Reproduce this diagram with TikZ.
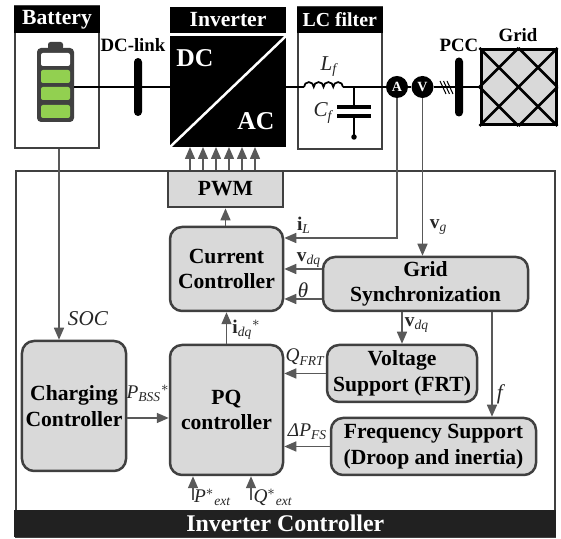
\documentclass[tikz,border=0pt]{standalone}
\usepackage{amsmath}
\usepackage{fontspec}
\setmainfont{Liberation Serif}
\usepackage{tikz}
\usetikzlibrary{arrows.meta}
\definecolor{framegray}{HTML}{404040}
\definecolor{wiregray}{HTML}{595959}
\definecolor{blockgray}{HTML}{D9D9D9}
\definecolor{cellgreen}{HTML}{92D050}
\newcommand{\iv}[1]{\textit{#1}}
\newcommand{\bigbf}{\fontsize{12.3}{14.6}\selectfont\bfseries}
\tikzset{
  framebox/.style={draw=framegray, line width=0.04cm, fill=white, inner sep=0pt},
  headbox/.style={fill=black, text=white, font=\bigbf, inner sep=0pt, outer sep=0pt},
  blockbox/.style={draw=framegray, line width=0.05cm, fill=blockgray, rounded corners=0.24cm, align=center, font=\bigbf, inner sep=0pt, text=black},
  busbar/.style={fill=black, rounded corners=0.08cm, minimum width=0.16cm, inner sep=0pt},
  meter/.style={circle, fill=black, text=white, minimum size=0.44cm, inner sep=0pt, font=\fontsize{8}{9}\selectfont\bfseries},
  cell/.style={rounded corners=0.04cm, minimum width=0.58cm, minimum height=0.26cm, inner sep=0pt},
  title/.style={font=\fontsize{10.7}{12}\selectfont\bfseries, inner sep=0pt},
  siglabel/.style={font=\fontsize{11}{13}\selectfont, inner sep=0pt, text=black!85},
  powerline/.style={line width=0.035cm, black},
  sigline/.style={line width=0.03cm, wiregray, -{Triangle[length=0.24cm,width=0.2cm]}}
}
\begin{document}
\begin{tikzpicture}
\useasboundingbox (0,0) rectangle (11.22,10.78);
\node[framebox, minimum width=1.68cm, minimum height=2.84cm] (batframe) at (1.14,9.24) {};
\node[headbox, minimum width=1.72cm, minimum height=0.54cm] (bat) at (1.14,10.39) {Battery};
\node[framebox, minimum width=1.67cm, minimum height=2.84cm] (lcframe) at (6.795,9.22) {};
\node[headbox, minimum width=1.71cm, minimum height=0.52cm, font=\fontsize{11.3}{13}\selectfont\bfseries] (lc) at (6.795,10.38) {LC filter};
\node[headbox, minimum width=2.32cm, minimum height=0.52cm] (inv) at (4.56,10.38) {Inverter};
\node[headbox, minimum width=2.32cm, minimum height=2.22cm] (invbox) at (4.56,8.95) {};
\draw[white, line width=0.05cm] (invbox.south west) to (invbox.north east);
\node[text=white, font=\fontsize{14.6}{16}\selectfont\bfseries, inner sep=0pt] (dc) at (3.90,9.62) {DC};
\node[text=white, font=\fontsize{14.6}{16}\selectfont\bfseries, inner sep=0pt] (ac) at (5.12,8.36) {AC};

\node[fill=framegray, rounded corners=0.05cm, minimum width=0.30cm, minimum height=0.16cm, inner sep=0pt] (batcap) at (1.11,9.86) {};
\node[fill=framegray, rounded corners=0.08cm, minimum width=0.74cm, minimum height=1.48cm, inner sep=0pt] (batbody) at (1.11,9.08) {};
\node[cell, fill=white] (cell1) at (1.11,9.59) {};
\node[cell, fill=cellgreen] (cell2) at (1.11,9.25) {};
\node[cell, fill=cellgreen] (cell3) at (1.11,8.91) {};
\node[cell, fill=cellgreen] (cell4) at (1.11,8.55) {};

\node[busbar, minimum height=1.16cm] (dclink) at (2.76,9.04) {};
\node[busbar, minimum height=1.18cm] (pcc) at (9.18,9.04) {};
\node[meter] (amm) at (7.94,9.04) {A};
\node[meter] (vm) at (8.45,9.04) {V};
\node[draw=black, line width=0.06cm, fill=blockgray, minimum width=1.5cm, minimum height=1.5cm, inner sep=0pt] (grid) at (10.37,9.04) {};
\coordinate (lstart) at (6.08,9.04);
\coordinate (lend) at (6.86,9.04);
\coordinate (capin) at (7.08,9.04);
\coordinate (capup) at (7.08,8.64);
\coordinate (capdn) at (7.08,8.46);
\coordinate (capgnd) at (7.08,8.04);

\draw[powerline] (batbody.east |- dclink) to (dclink.west);
\draw[powerline] (dclink.east) to (dclink -| invbox.west);
\draw[powerline] (dclink -| invbox.east) to (lstart);
\draw[powerline] (lstart) arc (180:0:0.0975) arc (180:0:0.0975) arc (180:0:0.0975) arc (180:0:0.0975);
\draw[powerline] (lend) to (amm.west);
\draw[powerline] (amm.east) to (vm.west);
\draw[powerline] (vm.east) to (pcc.west);
\draw[powerline] (pcc.east) to (pcc -| grid.west);
\draw[powerline] (capin) to (capup);
\draw[powerline] (capdn) to (capgnd);
\draw[black, line width=0.07cm] (6.74,8.64) to (7.42,8.64);
\draw[black, line width=0.07cm] (6.74,8.46) to (7.42,8.46);
\fill[black] (capgnd) circle (0.055);
\foreach \i in {0,0.07,0.14} {
  \draw[black, line width=0.02cm] (8.80+\i,9.16) to (8.92+\i,8.90);
}
\draw[black, line width=0.05cm] (grid.north west) to (grid.south east);
\draw[black, line width=0.05cm] (grid.north east) to (grid.south west);
\draw[black, line width=0.05cm] (grid.north) to (grid.east);
\draw[black, line width=0.05cm] (grid.east) to (grid.south);
\draw[black, line width=0.05cm] (grid.south) to (grid.west);
\draw[black, line width=0.05cm] (grid.west) to (grid.north);

\node[title] (dclabel) at (2.66,9.88) {DC-link};
\node[title] (pcclabel) at (9.18,9.88) {PCC};
\node[title] (gridlabel) at (10.36,10.08) {Grid};
\node[siglabel, font=\fontsize{12}{14}\selectfont] (lf) at (6.58,9.44) {$\iv{L}_{\iv{f}}$};
\node[siglabel, font=\fontsize{12}{14}\selectfont] (cf) at (6.46,8.52) {$\iv{C}_{\iv{f}}$};

\node[draw=framegray, line width=0.04cm, minimum width=10.79cm, minimum height=7.31cm, inner sep=0pt] (ctrlframe) at (5.705,3.695) {};
\node[fill=black!87, text=white, font=\fontsize{13.6}{15}\selectfont\bfseries, minimum width=10.83cm, minimum height=0.54cm, inner sep=0pt] (ctrlbar) at (5.705,0.31) {Inverter Controller};
\node[blockbox, rounded corners=0pt, line width=0.055cm, minimum width=2.30cm, minimum height=0.72cm] (pwm) at (4.51,7.00) {PWM};
\node[blockbox, minimum width=2.26cm, minimum height=1.68cm] (cur) at (4.53,5.40) {Current\\Controller};
\node[blockbox, minimum width=2.26cm, minimum height=2.60cm] (pq) at (4.53,2.58) {PQ\\controller};
\node[blockbox, minimum width=2.08cm, minimum height=2.60cm] (charge) at (1.48,2.66) {Charging\\Controller};
\node[blockbox, minimum width=4.10cm, minimum height=1.08cm] (sync) at (8.51,5.10) {Grid\\Synchronization};
\node[blockbox, minimum width=3.00cm, minimum height=1.14cm] (volt) at (8.04,3.31) {Voltage\\Support (FRT)};
\node[blockbox, minimum width=4.10cm, minimum height=1.14cm] (freq) at (8.67,1.85) {Frequency Support\\(Droop and inertia)};

\foreach \i in {-0.71,-0.45,-0.19,0.07,0.33,0.59} {
  \draw[sigline] ([xshift=\i cm]pwm.north) to ([xshift=\i cm]pwm.north |- invbox.south);
}
\draw[sigline] (cur.north -| pwm.north) to (pwm.south);
\draw[sigline] (pq.north) to (cur.south);
\draw[sigline] (charge.east |- 0,2.42) to (pq.west |- 0,2.42);
\draw[sigline] ([xshift=0.04cm]batframe.south) to ([xshift=0.04cm]batframe.south |- charge.north);
\draw[sigline] (amm.south) |- ([yshift=0.62cm]cur.east);
\draw[sigline] (vm.south) to (vm.south |- sync.north);
\draw[sigline] ([yshift=0.3cm]sync.west) to ([yshift=0.3cm]sync.west -| cur.east);
\draw[sigline] ([yshift=-0.3cm]sync.west) to ([yshift=-0.3cm]sync.west -| cur.east);
\draw[sigline] (sync.south -| volt.north) to (volt.north);
\draw[sigline] ([xshift=1.33cm]sync.south) to ([xshift=1.33cm]sync.south |- freq.north);
\draw[sigline] (volt.west) to (volt.west -| pq.east);
\draw[sigline] (freq.west) to (freq.west -| pq.east);
\coordinate (pin) at (3.86,0.78);
\coordinate (qin) at (5.02,0.78);
\draw[sigline] (pin) to (pin |- pq.south);
\draw[sigline] (qin) to (qin |- pq.south);

\node[siglabel, font=\fontsize{12}{14}\selectfont] (soclabel) at (1.76,4.40) {\iv{SOC}};
\node[siglabel] (ilabel) at (6.08,6.28) {$\textbf{i}_{\iv{L}}$};
\node[siglabel] (vglabel) at (8.77,6.24) {$\textbf{v}_{\iv{g}}$};
\node[siglabel] (vdqa) at (6.18,5.58) {$\textbf{v}_{\iv{dq}}$};
\node[siglabel, font=\fontsize{12}{14}\selectfont] (thetalabel) at (6.06,4.98) {\iv{θ}};
\node[siglabel] (vdqb) at (8.34,4.28) {$\textbf{v}_{\iv{dq}}$};
\node[siglabel, font=\fontsize{12}{14}\selectfont] (flabel) at (10.02,2.90) {\iv{f}};
\node[siglabel] (qfrt) at (6.10,3.64) {$\iv{Q}_{\iv{FRT}}$};
\node[siglabel] (dpfs) at (6.15,2.14) {\iv{ΔP}$_{\iv{FS}}$};
\node[siglabel] (pbss) at (2.96,2.92) {$\iv{P}_{\iv{BSS}}{}^{*}$};
\node[siglabel] (idq) at (4.93,4.18) {$\textbf{i}_{\iv{dq}}{}^{*}$};
\node[siglabel] (pext) at (4.25,0.84) {$\iv{P}^{*}{}_{\iv{ext}}$};
\node[siglabel] (qext) at (5.46,0.84) {$\iv{Q}^{*}{}_{\iv{ext}}$};
\end{tikzpicture}
\end{document}
